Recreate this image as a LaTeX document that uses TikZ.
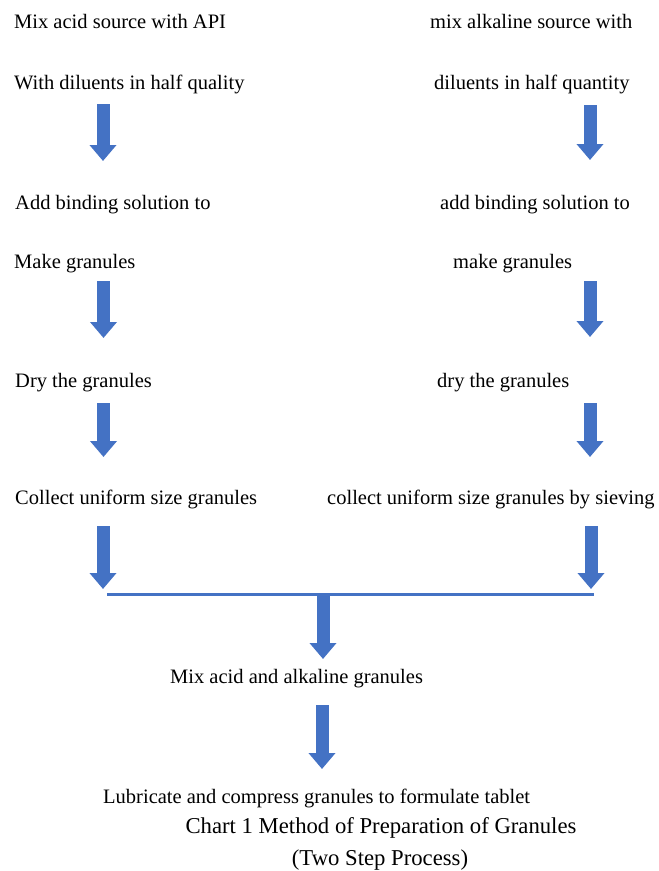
\documentclass[tikz,border=0pt]{standalone}
\usepackage{fontspec}
\setmainfont{Liberation Serif}
\usetikzlibrary{arrows.meta}
\definecolor{flowblue}{HTML}{4472C4}

\tikzset{
  step text/.style={anchor=base west, inner sep=0pt, font=\fontsize{20.5}{24}\selectfont},
  caption text/.style={anchor=base, inner sep=0pt, font=\fontsize{22.7}{28}\selectfont},
  flow arrow/.style={draw=flowblue, line width=13pt, -{Triangle[width=26pt,length=16pt]}},
  join line/.style={draw=flowblue, line width=3pt}
}

\begin{document}
\begin{tikzpicture}[x=1pt,y=-1pt]

  \useasboundingbox (0,0) rectangle (659,871);

  % left column: acid side
  \draw (14,28) node (acid1) [step text] {Mix acid source with API};
  \draw (14,89) node (acid2) [step text] {With diluents in half quality};
  \draw (15,209) node (acid3) [step text] {Add binding solution to};
  \draw (14,268) node (acid4) [step text] {Make granules};
  \draw (15,387) node (acid5) [step text] {Dry the granules};
  \draw (15,504) node (acid6) [step text] {Collect uniform size granules};

  % right column: alkaline side
  \draw (430,28) node (alk1) [step text] {mix alkaline source with};
  \draw (434,89) node (alk2) [step text] {diluents in half quantity};
  \draw (440,209) node (alk3) [step text] {add binding solution to};
  \draw (453,268) node (alk4) [step text] {make granules};
  \draw (437,387) node (alk5) [step text] {dry the granules};
  \draw (327,504) node (alk6) [step text] {collect uniform size granules by sieving};

  % merged steps
  \draw (170,683) node (mix) [step text] {Mix acid and alkaline granules};
  \draw (103,803) node (tablet) [step text] {Lubricate and compress granules to formulate tablet};

  \draw (381,833) node (cap1) [caption text] {Chart 1 Method of Preparation of Granules};
  \draw (380,865) node (cap2) [caption text] {(Two Step Process)};

  % arrow ends
  \coordinate (l1top) at (103,104);   \coordinate (l1tip) at (103,161);
  \coordinate (l2top) at (103.5,281); \coordinate (l2tip) at (103.5,338);
  \coordinate (l3top) at (103.5,403); \coordinate (l3tip) at (103.5,457);
  \coordinate (l4top) at (103,526);   \coordinate (l4tip) at (103,589);
  \coordinate (r1top) at (590,105);   \coordinate (r1tip) at (590,160);
  \coordinate (r2top) at (590,281);   \coordinate (r2tip) at (590,337);
  \coordinate (r3top) at (590,403);   \coordinate (r3tip) at (590,457);
  \coordinate (r4top) at (591,526);   \coordinate (r4tip) at (591,589);
  \coordinate (jleft) at (107,594);   \coordinate (jright) at (594,594);
  \coordinate (m1top) at (323,594);   \coordinate (m1tip) at (323,659);
  \coordinate (m2top) at (322,705);   \coordinate (m2tip) at (322,769);

  \draw[flow arrow] (l1top) -- (l1tip);
  \draw[flow arrow] (l2top) -- (l2tip);
  \draw[flow arrow] (l3top) -- (l3tip);
  \draw[flow arrow] (l4top) -- (l4tip);

  \draw[flow arrow] (r1top) -- (r1tip);
  \draw[flow arrow] (r2top) -- (r2tip);
  \draw[flow arrow] (r3top) -- (r3tip);
  \draw[flow arrow] (r4top) -- (r4tip);

  \draw[join line] (jleft) -- (jright);
  \draw[flow arrow] (m1top) -- (m1tip);
  \draw[flow arrow] (m2top) -- (m2tip);

\end{tikzpicture}
\end{document}
